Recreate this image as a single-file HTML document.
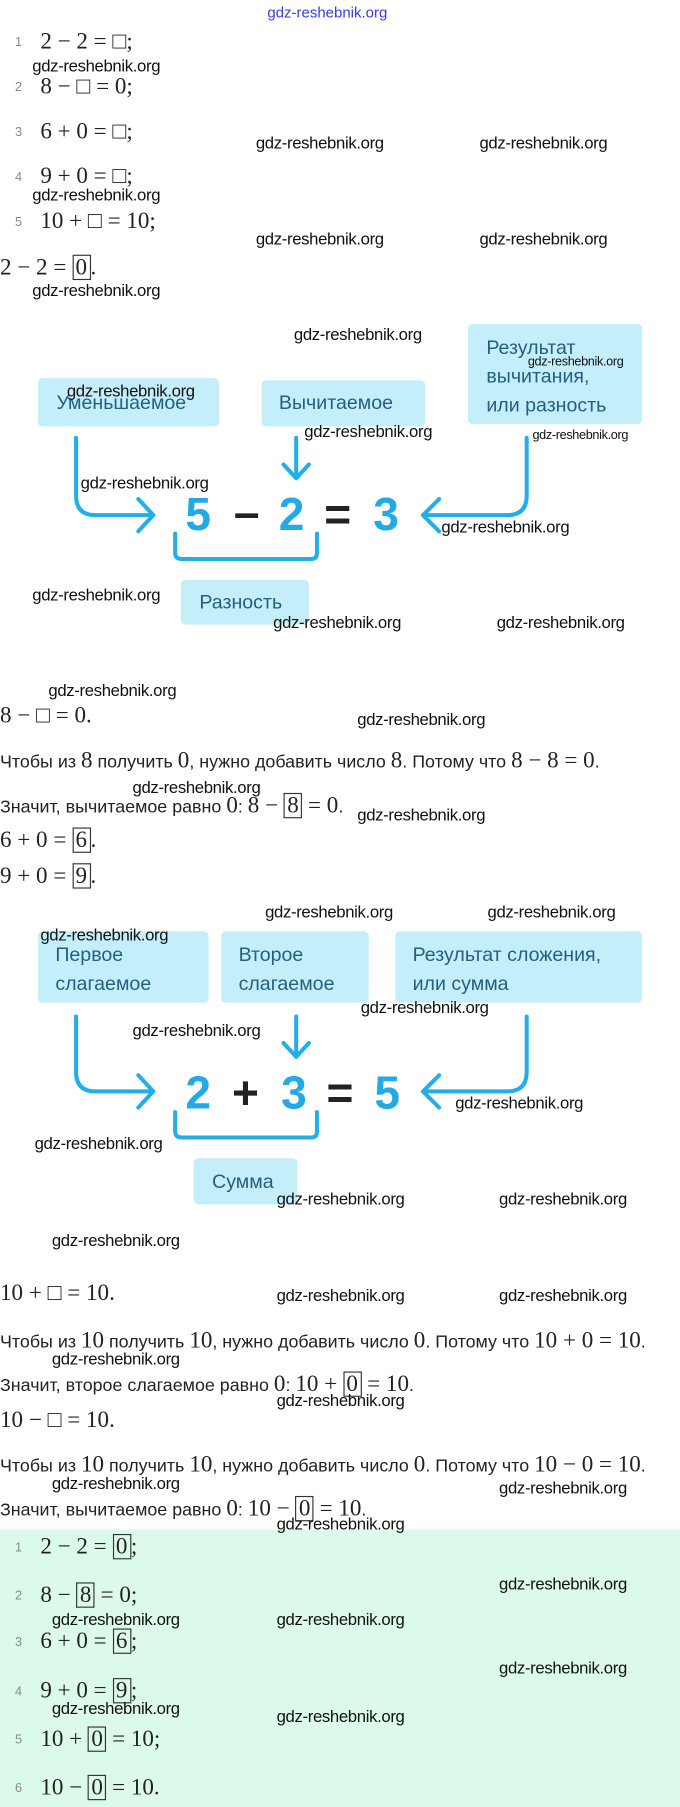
<!DOCTYPE html>
<html><head><meta charset="utf-8"><style>
html,body{margin:0;padding:0;background:#fff;}
body{width:680px;height:1806px;overflow:hidden;position:relative;}
#c{position:absolute;left:0;top:0;width:590px;height:1568px;transform:scale(1.1525);transform-origin:0 0;}
.a{position:absolute;white-space:nowrap;line-height:22px;height:22px;}
.m{font-family:"Liberation Serif",serif;font-size:20px;color:#222;}
.n{font-family:"Liberation Sans",sans-serif;font-size:11px;color:#888;}
.t{font-family:"Liberation Sans","Noto Sans CJK SC",sans-serif;font-size:15.5px;color:#222;}
.t i{font-family:"Liberation Serif",serif;font-style:normal;font-size:20px;}
.w{font-family:"Liberation Sans",sans-serif;font-size:14.5px;color:#111;letter-spacing:-0.3px;}
.ws{font-family:"Liberation Sans",sans-serif;font-size:11px;color:#111;letter-spacing:-0.3px;}
.b{display:inline-block;border:1px solid #333;padding:0 2px;line-height:20px;}
.bx{position:absolute;background:#c5eefb;border-radius:4px;font-family:"Liberation Sans","Noto Sans CJK SC",sans-serif;font-size:17px;color:#245f7d;line-height:25px;box-sizing:border-box;}
.g{position:absolute;left:0;top:1327px;width:590px;height:241px;background:#dcfaea;}
</style></head><body><div id="c">
<div class="a" style="left:232px;top:0;font-family:'Liberation Sans',sans-serif;font-size:13px;color:#3b3bdc;">gdz-reshebnik.org</div>

<div class="a n" style="left:13px;top:26px">1</div><div class="a m" style="left:35px;top:25px">2 − 2 = □;</div>
<div class="a w" style="left:28px;top:47px">gdz-reshebnik.org</div>
<div class="a n" style="left:13px;top:65px">2</div><div class="a m" style="left:35px;top:64px">8 − □ = 0;</div>
<div class="a n" style="left:13px;top:104px">3</div><div class="a m" style="left:35px;top:103px">6 + 0 = □;</div>
<div class="a w" style="left:222px;top:114px">gdz-reshebnik.org</div><div class="a w" style="left:416px;top:114px">gdz-reshebnik.org</div>
<div class="a n" style="left:13px;top:143px">4</div><div class="a m" style="left:35px;top:142px">9 + 0 = □;</div>
<div class="a w" style="left:28px;top:159px">gdz-reshebnik.org</div>
<div class="a n" style="left:13px;top:182px">5</div><div class="a m" style="left:35px;top:181px">10 + □ = 10;</div>
<div class="a w" style="left:222px;top:197px">gdz-reshebnik.org</div><div class="a w" style="left:416px;top:197px">gdz-reshebnik.org</div>
<div class="a m" style="left:0;top:221px">2 − 2 = <span class="b">0</span>.</div>
<div class="a w" style="left:28px;top:242px">gdz-reshebnik.org</div>
<div class="a w" style="left:255px;top:280px">gdz-reshebnik.org</div>

<div class="bx" style="left:33px;top:328px;width:157px;height:42px;padding:9px 0 0 16px">Уменьшаемое</div>
<div class="bx" style="left:227px;top:330px;width:142px;height:40px;padding:7px 0 0 15px">Вычитаемое</div>
<div class="bx" style="left:406px;top:281px;width:151px;height:87px;padding:8px 0 0 16px">Результат<br>вычитания,<br>или разность</div>
<div class="bx" style="left:157px;top:503px;width:111px;height:39px;padding:7px 0 0 16px">Разность</div>
<svg style="position:absolute;left:0;top:0" width="590" height="1100">
<g fill="none" stroke="#22aee8" stroke-width="3.5" stroke-linecap="round" stroke-linejoin="round">
<path d="M66 380 V430 Q66 447 83 447 H130"/><path d="M120 433 L133 447 L120 461"/>
<path d="M257 380 V414"/><path d="M246 403 L257 415 L268 403"/>
<path d="M457 380 V430 Q457 447 440 447 H370"/><path d="M381 433 L367 447 L381 461"/>
<path d="M152 463 V480 Q152 485 158 485 H270 Q275 485 275 480 V463"/>
<path d="M66 882 V930 Q66 947 83 947 H130"/><path d="M120 933 L133 947 L120 961"/>
<path d="M257 882 V916"/><path d="M246 905 L257 917 L268 905"/>
<path d="M457 882 V930 Q457 947 440 947 H370"/><path d="M381 933 L367 947 L381 961"/>
<path d="M152 965 V982 Q152 987 158 987 H270 Q275 987 275 982 V965"/>
</g>
<g font-family="Liberation Sans,sans-serif" font-weight="bold" font-size="40" text-anchor="middle">
<text x="172" y="460" fill="#22a9e6">5</text><text x="214" y="458" fill="#222">–</text><text x="253" y="460" fill="#22a9e6">2</text><text x="293" y="460" fill="#222">=</text><text x="335" y="460" fill="#22a9e6">3</text>
<text x="172" y="962" fill="#22a9e6">2</text><text x="213" y="962" fill="#222">+</text><text x="255" y="962" fill="#22a9e6">3</text><text x="295" y="962" fill="#222">=</text><text x="336" y="962" fill="#22a9e6">5</text>
</g></svg>
<div class="a w" style="left:58px;top:329px">gdz-reshebnik.org</div>
<div class="a ws" style="left:458px;top:303px">gdz-reshebnik.org</div>
<div class="a w" style="left:264px;top:364px">gdz-reshebnik.org</div>
<div class="a ws" style="left:462px;top:367px">gdz-reshebnik.org</div>
<div class="a w" style="left:70px;top:409px">gdz-reshebnik.org</div>
<div class="a w" style="left:383px;top:447px">gdz-reshebnik.org</div>
<div class="a w" style="left:28px;top:506px">gdz-reshebnik.org</div>
<div class="a w" style="left:237px;top:530px">gdz-reshebnik.org</div><div class="a w" style="left:431px;top:530px">gdz-reshebnik.org</div>

<div class="a w" style="left:42px;top:589px">gdz-reshebnik.org</div>
<div class="a m" style="left:0;top:610px">8 − □ = 0.</div>
<div class="a w" style="left:310px;top:614px">gdz-reshebnik.org</div>
<div class="a t" style="left:0;top:649px">Чтобы из <i>8</i> получить <i>0</i>, нужно добавить число <i>8</i>. Потому что <i>8 − 8 = 0</i>.</div>
<div class="a w" style="left:115px;top:673px">gdz-reshebnik.org</div>
<div class="a t" style="left:0;top:688px">Значит, вычитаемое равно <i>0</i>: <i>8 − <span class="b">8</span> = 0</i>.</div>
<div class="a w" style="left:310px;top:697px">gdz-reshebnik.org</div>
<div class="a m" style="left:0;top:718px">6 + 0 = <span class="b">6</span>.</div>
<div class="a m" style="left:0;top:749px">9 + 0 = <span class="b">9</span>.</div>
<div class="a w" style="left:230px;top:781px">gdz-reshebnik.org</div><div class="a w" style="left:423px;top:781px">gdz-reshebnik.org</div>

<div class="bx" style="left:33px;top:808px;width:148px;height:62px;padding:8px 0 0 15px">Первое<br>слагаемое</div>
<div class="bx" style="left:192px;top:808px;width:128px;height:62px;padding:8px 0 0 15px">Второе<br>слагаемое</div>
<div class="bx" style="left:343px;top:808px;width:214px;height:62px;padding:8px 0 0 15px">Результат сложения,<br>или сумма</div>
<div class="bx" style="left:168px;top:1005px;width:90px;height:40px;padding:8px 0 0 16px">Сумма</div>
<div class="a w" style="left:35px;top:801px">gdz-reshebnik.org</div>
<div class="a w" style="left:313px;top:864px">gdz-reshebnik.org</div>
<div class="a w" style="left:115px;top:884px">gdz-reshebnik.org</div>
<div class="a w" style="left:395px;top:947px">gdz-reshebnik.org</div>
<div class="a w" style="left:30px;top:982px">gdz-reshebnik.org</div>
<div class="a w" style="left:240px;top:1030px">gdz-reshebnik.org</div><div class="a w" style="left:433px;top:1030px">gdz-reshebnik.org</div>
<div class="a w" style="left:45px;top:1066px">gdz-reshebnik.org</div>

<div class="a m" style="left:0;top:1111px">10 + □ = 10.</div>
<div class="a w" style="left:240px;top:1114px">gdz-reshebnik.org</div><div class="a w" style="left:433px;top:1114px">gdz-reshebnik.org</div>
<div class="a t" style="left:0;top:1152px">Чтобы из <i>10</i> получить <i>10</i>, нужно добавить число <i>0</i>. Потому что <i>10 + 0 = 10</i>.</div>
<div class="a w" style="left:45px;top:1169px">gdz-reshebnik.org</div>
<div class="a t" style="left:0;top:1190px">Значит, второе слагаемое равно <i>0</i>: <i>10 + <span class="b">0</span> = 10</i>.</div>
<div class="a w" style="left:240px;top:1205px">gdz-reshebnik.org</div>
<div class="a m" style="left:0;top:1221px">10 − □ = 10.</div>
<div class="a t" style="left:0;top:1260px">Чтобы из <i>10</i> получить <i>10</i>, нужно добавить число <i>0</i>. Потому что <i>10 − 0 = 10</i>.</div>
<div class="a w" style="left:45px;top:1277px">gdz-reshebnik.org</div><div class="a w" style="left:433px;top:1281px">gdz-reshebnik.org</div>
<div class="a t" style="left:0;top:1298px">Значит, вычитаемое равно <i>0</i>: <i>10 − <span class="b">0</span> = 10</i>.</div>

<div class="g"></div>
<div class="a w" style="left:240px;top:1312px">gdz-reshebnik.org</div>
<div class="a n" style="left:13px;top:1332px">1</div><div class="a m" style="left:35px;top:1331px">2 − 2 = <span class="b">0</span>;</div>
<div class="a w" style="left:433px;top:1364px">gdz-reshebnik.org</div>
<div class="a n" style="left:13px;top:1374px">2</div><div class="a m" style="left:35px;top:1373px">8 − <span class="b">8</span> = 0;</div>
<div class="a w" style="left:45px;top:1395px">gdz-reshebnik.org</div><div class="a w" style="left:240px;top:1395px">gdz-reshebnik.org</div>
<div class="a n" style="left:13px;top:1414px">3</div><div class="a m" style="left:35px;top:1413px">6 + 0 = <span class="b">6</span>;</div>
<div class="a w" style="left:433px;top:1437px">gdz-reshebnik.org</div>
<div class="a n" style="left:13px;top:1457px">4</div><div class="a m" style="left:35px;top:1456px">9 + 0 = <span class="b">9</span>;</div>
<div class="a w" style="left:45px;top:1472px">gdz-reshebnik.org</div><div class="a w" style="left:240px;top:1479px">gdz-reshebnik.org</div>
<div class="a n" style="left:13px;top:1499px">5</div><div class="a m" style="left:35px;top:1498px">10 + <span class="b">0</span> = 10;</div>
<div class="a n" style="left:13px;top:1541px">6</div><div class="a m" style="left:35px;top:1540px">10 − <span class="b">0</span> = 10.</div>
</div></body></html>
